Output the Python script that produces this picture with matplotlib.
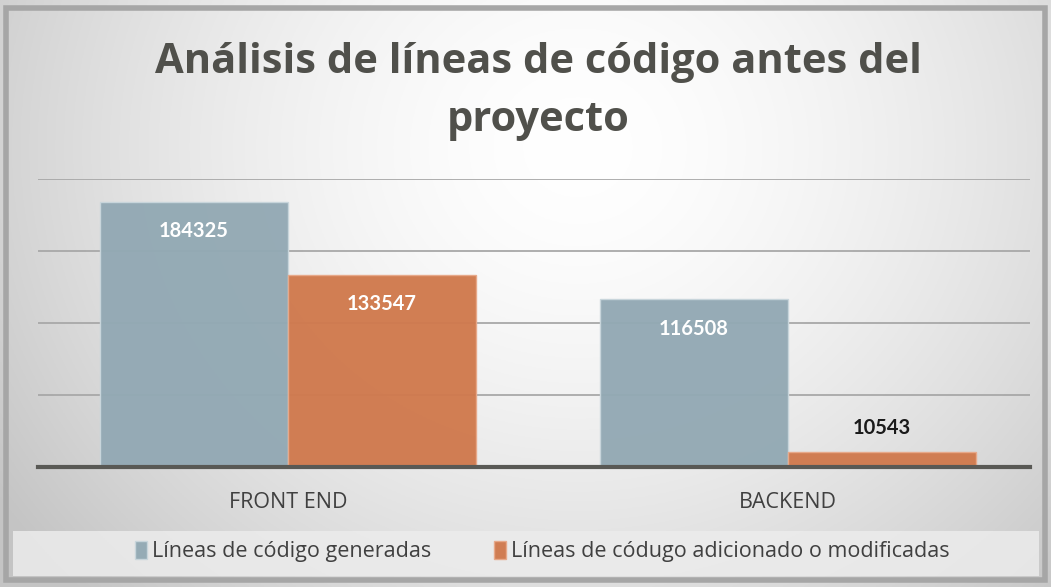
import matplotlib.pyplot as plt
import numpy as np
from matplotlib.patches import Rectangle

# data
categories = ["FRONT END", "BACKEND"]
generadas = [184325, 116508]
modificadas = [133547, 10543]
series_names = ["Líneas de código generadas", "Líneas de códugo adicionado o modificadas"]

blue = "#93a9b4"
orange = "#d07a4e"

plt.rcParams['font.family'] = ['Open Sans', 'DejaVu Sans']

fig = plt.figure(figsize=(10.51, 5.87), dpi=100, facecolor="white")

# background gradient (gray at the sides, white near top-center)
bg = fig.add_axes([0, 0, 1, 1], zorder=0)
h, w = 300, 600
yy, xx = np.mgrid[0:h, 0:w]
xn = xx / (w - 1)
yn = yy / (h - 1)
d = np.sqrt(((xn - 0.55) / 0.55) ** 2 + ((yn - 0.25) / 0.9) ** 2)
shade = 1.0 - 0.17 * np.clip(d, 0, 1.2) ** 1.6
img = np.dstack([shade, shade, shade])
bg.imshow(img, extent=[0, 1, 0, 1], aspect="auto", origin="upper")
bg.add_patch(Rectangle((0.012, 0.018), 0.977, 0.077, facecolor="#ececec",
                       edgecolor="none", alpha=0.85))
bg.add_patch(Rectangle((0.006, 0.012), 0.988, 0.975, fill=False,
                       edgecolor="#a6a6a6", lw=4))
bg.set_xlim(0, 1)
bg.set_ylim(0, 1)
bg.axis("off")

ax = fig.add_axes([0.036, 0.204, 0.944, 0.491], zorder=1)
ax.patch.set_alpha(0)

x = np.arange(len(categories))
bw = 0.376
b1 = ax.bar(x - bw / 2, generadas, bw, color=blue, edgecolor="#c9d6dc", lw=1,
            label=series_names[0], zorder=2, alpha=0.97)
b2 = ax.bar(x + bw / 2, modificadas, bw, color=orange, edgecolor="#e8a98a", lw=1,
            label=series_names[1], zorder=2, alpha=0.97)

ax.set_ylim(0, 200000)
ax.set_xlim(-0.5, 1.484)
ax.set_yticks([50000, 100000, 150000, 200000])
ax.yaxis.grid(True, color="#a8a8a8", lw=1.3)
ax.tick_params(axis="y", left=False, labelleft=False)
ax.tick_params(axis="x", bottom=False, labelsize=15.5, labelcolor="#404040", pad=14)
ax.set_xticks(x)
ax.set_xticklabels(categories)
for s in ["top", "right", "left"]:
    ax.spines[s].set_visible(False)
ax.spines["bottom"].set_color("#595955")
ax.spines["bottom"].set_linewidth(3)
ax.spines["bottom"].set_zorder(3)

# data labels
for bars, vals in [(b1, generadas), (b2, modificadas)]:
    for rect, v in zip(bars, vals):
        cx = rect.get_x() + rect.get_width() / 2
        if v > 50000:
            ax.annotate(str(v), (cx, v), xytext=(0, -21), textcoords="offset points",
                        ha="center", va="center", color="white", fontsize=14.5,
                        fontweight="bold", family=["Lato", "DejaVu Sans"], zorder=4)
        else:
            ax.annotate(str(v), (cx, v), xytext=(0, 17), textcoords="offset points",
                        ha="center", va="center", color="#1a1a1a", fontsize=14.5,
                        fontweight="bold", family=["Lato", "DejaVu Sans"], zorder=4)

fig.text(0.512, 0.893, "Análisis de líneas de código antes del", ha="center",
         va="center", fontsize=30, fontweight="bold", color="#50504b")
fig.text(0.512, 0.795, "proyecto", ha="center", va="center", fontsize=30,
         fontweight="bold", color="#50504b")

fig.legend(handles=[b1, b2], labels=series_names, loc="center", ncol=2,
           bbox_to_anchor=(0.516, 0.06), frameon=False, fontsize=15.5,
           labelcolor="#404040", handlelength=0.55, handleheight=0.9,
           handletextpad=0.25, columnspacing=2.9)

fig.savefig("out.png", dpi=100, facecolor=fig.get_facecolor())
